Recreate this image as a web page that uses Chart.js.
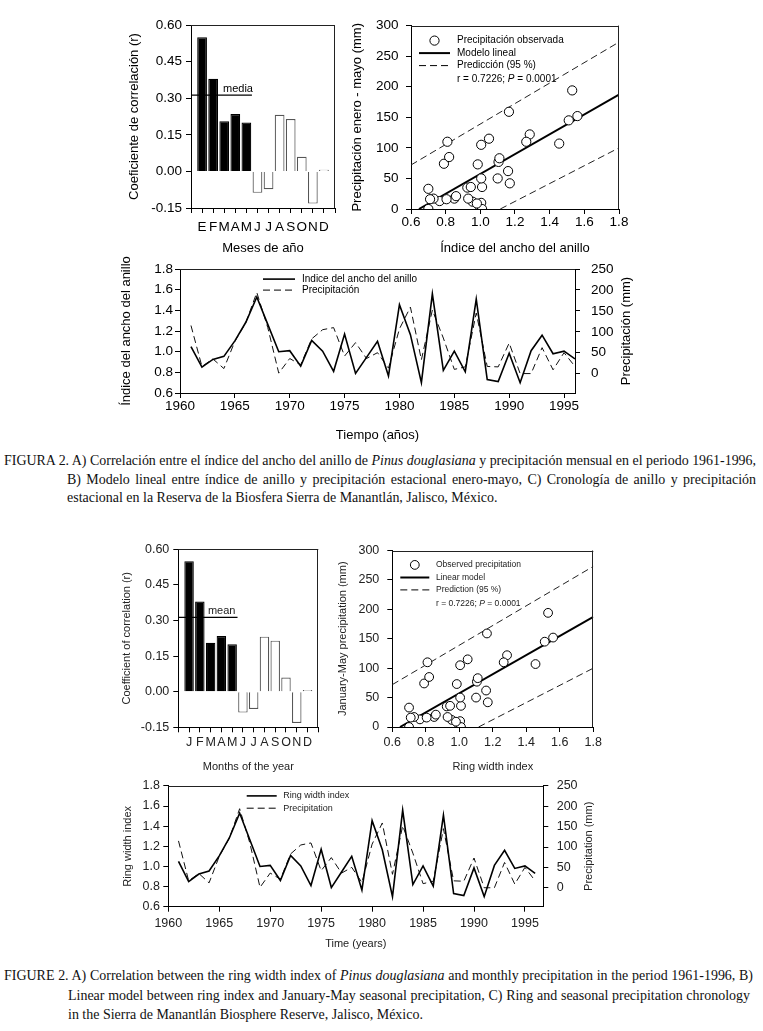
<!DOCTYPE html>
<html lang="es">
<head>
<meta charset="UTF-8" />
<title>Figura 2</title>
<script src="https://cdn.jsdelivr.net/npm/chart.js"></script>
<style>
  body { margin: 0; background: #fff; width: 763px; height: 1031px; position: relative; overflow: hidden; }
  .panel { position: absolute; }
  .panel canvas { display: block; }
  .ln {
    position: absolute; display: inline-block; white-space: nowrap;
    font-family: "Liberation Serif", "Times New Roman", serif; font-size: 14px;
    line-height: 14px; color: #111; transform-origin: 0 0;
  }
</style>
</head>
<body>
  <div class="panel" style="left:120px;top:10px"><canvas id="aEs" width="230" height="255"></canvas></div>
  <div class="panel" style="left:345px;top:10px"><canvas id="bEs" width="290" height="255"></canvas></div>
  <div class="panel" style="left:110px;top:250px"><canvas id="cEs" width="540" height="195"></canvas></div>

  <div class="ln cap-es" style="left:4px;top:454px" data-w="752">FIGURA 2. A) Correlación entre el índice del ancho del anillo de <i>Pinus douglasiana</i> y precipitación mensual en el periodo 1961-1996,</div>
  <div class="ln cap-es" style="left:67px;top:473px" data-w="689">B) Modelo lineal entre índice de anillo y precipitación estacional enero-mayo, C) Cronología de anillo y precipitación</div>
  <div class="ln cap-es" style="left:67px;top:491px" data-w="431" data-last="1">estacional en la Reserva de la Biosfera Sierra de Manantlán, Jalisco, México.</div>

  <div class="panel" style="left:115px;top:535px"><canvas id="aEn" width="215" height="245"></canvas></div>
  <div class="panel" style="left:335px;top:535px"><canvas id="bEn" width="275" height="245"></canvas></div>
  <div class="panel" style="left:110px;top:770px"><canvas id="cEn" width="505" height="190"></canvas></div>

  <div class="ln cap-en" style="left:4px;top:969px" data-w="749">FIGURE 2. A) Correlation between the ring width index of <i>Pinus douglasiana</i> and monthly precipitation in the period 1961-1996, B)</div>
  <div class="ln cap-en" style="left:68px;top:989px" data-w="682">Linear model between ring index and January-May seasonal precipitation, C) Ring and seasonal precipitation chronology</div>
  <div class="ln cap-en" style="left:68px;top:1008px" data-last="1">in the Sierra de Manantlán Biosphere Reserve, Jalisco, México.</div>

<script>
// data
const years = [1961, 1962, 1963, 1964, 1965, 1966, 1967, 1968, 1969, 1970, 1971, 1972,
  1973, 1974, 1975, 1976, 1977, 1978, 1979, 1980, 1981, 1982, 1983, 1984,
  1985, 1986, 1987, 1988, 1989, 1990, 1991, 1992, 1993, 1994, 1995, 1996];
const ringIndex = [1.05, 0.85, 0.925, 0.955, 1.105, 1.285, 1.53, 1.265, 1.00, 1.01, 0.86, 1.11,
  1.005, 0.81, 1.17, 0.79, 0.945, 1.10, 0.765, 1.455, 1.165, 0.70, 1.56, 0.82,
  1.005, 0.805, 1.51, 0.73, 0.71, 0.985, 0.70, 1.01, 1.16, 0.98, 1.005, 0.93];
const precipJanMay = [115, 17, 35, 12, 77, 122, 194, 110, 1, 36, 21, 83,
  105, 110, 42, 74, 36, 50, 13, 107, 159, 33, 152, 85,
  10, 16, 145, 17, 16, 73, 0, 0, 62, 9, 50, 17];

const monthsEs = ['E', 'F', 'M', 'A', 'M', 'J', 'J', 'A', 'S', 'O', 'N', 'D'];
const monthsEn = ['J', 'F', 'M', 'A', 'M', 'J', 'J', 'A', 'S', 'O', 'N', 'D'];
const corrMonthly = [0.55, 0.38, 0.206, 0.235, 0.20, -0.088, -0.073, 0.232, 0.215, 0.06, -0.132, 0.007];
const nSeason = 5; // E-M, filled bars
const meanCorr = 0.313;
const meanSpan = [0, 5.5];

const modelX = [0.646, 1.8], modelY = [0, 187];
const upperX = [0.6, 1.8], upperY = [72, 273];
const lowerX = [1.115, 1.8], lowerY = [0, 100];

const corrTicks = [-0.15, 0, 0.15, 0.30, 0.45, 0.60];
const monthSlots = [0, 1, 2, 3, 4, 5, 6, 7, 8, 9, 10, 11, 12, 13];
const ringTicks = [0.6, 0.8, 1.0, 1.2, 1.4, 1.6, 1.8];
const precipTicksB = [0, 50, 100, 150, 200, 250, 300];
const precipTicksC = [0, 50, 100, 150, 200, 250];
const yearTicks = [1960, 1965, 1970, 1975, 1980, 1985, 1990, 1995];

const FONT = "'Liberation Sans', Arial, sans-serif";
Chart.defaults.font.family = FONT;
Chart.defaults.color = '#000';
Chart.defaults.animation = false;
Chart.defaults.plugins.legend.display = false;
Chart.defaults.plugins.tooltip.enabled = false;

const pts = (xs, ys) => xs.map((x, i) => ({ x, y: ys[i] }));

// top / right edges of the plot box
const framePlugin = {
  id: 'frame',
  afterDatasetsDraw(chart, args, o) {
    if (!o.sides) return;
    const { ctx, chartArea: a } = chart;
    ctx.save();
    ctx.strokeStyle = o.color || '#222';
    ctx.lineWidth = 1;
    ctx.beginPath();
    if (o.sides.includes('top')) { ctx.moveTo(a.left, Math.round(a.top) + 0.5); ctx.lineTo(a.right, Math.round(a.top) + 0.5); }
    if (o.sides.includes('right')) { ctx.moveTo(Math.round(a.right) - 0.5, a.top); ctx.lineTo(Math.round(a.right) - 0.5, a.bottom); }
    ctx.stroke();
    ctx.restore();
  }
};

// legend drawn inside the plot box
const keyPlugin = {
  id: 'key',
  afterDraw(chart, args, o) {
    if (!o.rows) return;
    const { ctx, chartArea: a } = chart;
    ctx.save();
    ctx.textBaseline = 'middle';
    o.rows.forEach((r, i) => {
      const y = a.top + o.ys[i];
      const x0 = a.left + o.x0, x1 = a.left + o.x1;
      ctx.strokeStyle = '#000';
      if (r.mark === 'circle') {
        ctx.beginPath();
        ctx.arc((x0 + x1) / 2, y, o.r, 0, Math.PI * 2);
        ctx.fillStyle = '#fff'; ctx.fill();
        ctx.lineWidth = 1; ctx.stroke();
      } else if (r.mark) {
        ctx.beginPath();
        ctx.lineWidth = r.mark === 'solid' ? o.solidW : 1;
        ctx.setLineDash(r.mark === 'solid' ? [] : [7, 4]);
        ctx.moveTo(x0, y); ctx.lineTo(x1, y); ctx.stroke();
        ctx.setLineDash([]);
      }
      ctx.fillStyle = o.color;
      let x = a.left + o.tx;
      r.parts.forEach(([t, it]) => {
        ctx.font = (it ? 'italic ' : '') + o.size + 'px ' + FONT;
        ctx.fillText(t, x, y);
        x += ctx.measureText(t).width;
      });
    });
    ctx.restore();
  }
};

// small label above the mean line
const notePlugin = {
  id: 'note',
  afterDatasetsDraw(chart, args, o) {
    if (!o.text) return;
    const { ctx, scales } = chart;
    ctx.save();
    ctx.font = o.size + 'px ' + FONT;
    ctx.fillStyle = o.color;
    ctx.textAlign = 'center';
    ctx.textBaseline = 'bottom';
    ctx.fillText(o.text, scales.x.getPixelForValue(o.x), scales.y.getPixelForValue(o.y) - 1);
    ctx.restore();
  }
};

// right-hand axis title, read bottom to top like the left one
const sideTitlePlugin = {
  id: 'sideTitle',
  afterDraw(chart, args, o) {
    if (!o.text) return;
    const { ctx, chartArea: a } = chart;
    ctx.save();
    ctx.translate(chart.width - o.dx, (a.top + a.bottom) / 2);
    ctx.rotate(-Math.PI / 2);
    ctx.font = o.size + 'px ' + FONT;
    ctx.fillStyle = o.color;
    ctx.textAlign = 'center';
    ctx.textBaseline = 'middle';
    ctx.fillText(o.text, 0, 0);
    ctx.restore();
  }
};
Chart.register(framePlugin, keyPlugin, notePlugin, sideTitlePlugin);

function axis(o) {
  return {
    type: 'linear', position: o.pos, min: o.min, max: o.max, offset: false,
    afterBuildTicks: ax => { ax.ticks = o.ticks.map(v => ({ value: v })); },
    afterFit: ax => { if (o.pos === 'bottom') ax.height = o.fit; else ax.width = o.fit; },
    ticks: { callback: o.fmt, autoSkip: false, maxRotation: 0, padding: o.tickPad, font: { size: o.size }, color: o.color },
    grid: { offset: false, drawOnChartArea: false, tickLength: 5, color: '#000', lineWidth: 1 },
    border: { display: true, color: '#000', width: 1 },
    title: { display: !!o.title, text: o.title || '', font: { size: o.titleSize }, color: o.color, padding: o.titlePad }
  };
}

function barPanel(id, L) {
  new Chart(document.getElementById(id), {
    type: 'bar',
    data: {
      datasets: [
        { type: 'line', data: meanSpan.map(x => ({ x, y: meanCorr })), borderColor: '#000', borderWidth: 1.3, pointRadius: 0 },
        {
          data: corrMonthly.map((y, i) => ({ x: i + 1, y })),
          backgroundColor: corrMonthly.map((v, i) => i < nSeason ? '#000' : '#fff'),
          borderColor: corrMonthly.map((v, i) => i < nSeason ? '#000' : '#555'),
          borderWidth: 1.2, barPercentage: 0.88, categoryPercentage: 1
        }
      ]
    },
    options: {
      responsive: false,
      layout: { padding: L.pad },
      scales: {
        x: axis({ pos: 'bottom', min: 0, max: 13, ticks: monthSlots, fmt: v => L.months[v - 1] || '',
          size: L.tick, color: L.color, tickPad: L.xTickPad, fit: L.xFit,
          title: L.xTitle, titleSize: L.titleSize, titlePad: { top: 0, bottom: L.xTitlePad } }),
        y: axis({ pos: 'left', min: -0.15, max: 0.60, ticks: corrTicks, fmt: v => v.toFixed(2),
          size: L.tick, color: L.color, tickPad: L.yTickPad, fit: L.yFit,
          title: L.yTitle, titleSize: L.titleSize, titlePad: { top: L.yTitlePad, bottom: 0 } })
      },
      plugins: {
        frame: { sides: ['top', 'right'] },
        note: { text: L.meanWord, x: L.meanX, y: meanCorr, size: 11, color: L.color }
      }
    }
  });
}

function scatterPanel(id, L) {
  new Chart(document.getElementById(id), {
    type: 'scatter',
    data: {
      datasets: [
        { data: pts(ringIndex, precipJanMay), pointRadius: L.r, pointBackgroundColor: '#fff',
          pointBorderColor: '#000', pointBorderWidth: 1 },
        { data: pts(modelX, modelY), showLine: true, borderColor: '#000', borderWidth: 2, pointRadius: 0 },
        { data: pts(upperX, upperY), showLine: true, borderColor: '#222', borderWidth: 1, borderDash: [7, 4], pointRadius: 0 },
        { data: pts(lowerX, lowerY), showLine: true, borderColor: '#222', borderWidth: 1, borderDash: [7, 4], pointRadius: 0 }
      ]
    },
    options: {
      responsive: false,
      layout: { padding: L.pad },
      scales: {
        x: axis({ pos: 'bottom', min: 0.6, max: 1.8, ticks: ringTicks, fmt: v => v.toFixed(1),
          size: L.tick, color: L.color, tickPad: L.xTickPad, fit: L.xFit,
          title: L.xTitle, titleSize: L.titleSize, titlePad: { top: 0, bottom: L.xTitlePad } }),
        y: axis({ pos: 'left', min: 0, max: 300, ticks: precipTicksB, fmt: v => String(v),
          size: L.tick, color: L.color, tickPad: L.yTickPad, fit: L.yFit,
          title: L.yTitle, titleSize: L.titleSize, titlePad: { top: L.yTitlePad, bottom: 0 } })
      },
      plugins: {
        frame: { sides: ['top', 'right'] },
        key: {
          rows: [
            { mark: 'circle', parts: [[L.keys[0]]] },
            { mark: 'solid', parts: [[L.keys[1]]] },
            { mark: 'dashed', parts: [[L.keys[2]]] },
            { parts: [['r = 0.7226; '], ['P', true], [' = 0.0001']] }
          ],
          ys: L.keyYs, x0: L.keyX0, x1: L.keyX1, tx: L.keyTx, r: L.r, solidW: 2,
          size: L.keySize, color: L.color
        }
      }
    }
  });
}

function seriesPanel(id, L) {
  new Chart(document.getElementById(id), {
    type: 'line',
    data: {
      datasets: [
        { data: pts(years, ringIndex), yAxisID: 'y', borderColor: '#000', borderWidth: 1.6, pointRadius: 0, tension: 0 },
        { data: pts(years, precipJanMay), yAxisID: 'y1', borderColor: '#111', borderWidth: 1, borderDash: [7, 4], pointRadius: 0, tension: 0 }
      ]
    },
    options: {
      responsive: false,
      layout: { padding: L.pad },
      scales: {
        x: axis({ pos: 'bottom', min: 1960, max: L.xMax, ticks: yearTicks, fmt: v => String(v),
          size: L.tick, color: L.color, tickPad: L.xTickPad, fit: L.xFit,
          title: L.xTitle, titleSize: L.titleSize, titlePad: { top: 0, bottom: L.xTitlePad } }),
        y: axis({ pos: 'left', min: 0.6, max: 1.8, ticks: ringTicks, fmt: v => v.toFixed(1),
          size: L.tick, color: L.color, tickPad: L.yTickPad, fit: L.yFit,
          title: L.yTitle, titleSize: L.titleSize, titlePad: { top: L.yTitlePad, bottom: 0 } }),
        y1: axis({ pos: 'right', min: -46.5, max: 250, ticks: precipTicksC, fmt: v => String(v),
          size: L.tick, color: L.color, tickPad: L.y1TickPad, fit: L.y1Fit })
      },
      plugins: {
        frame: { sides: ['top'] },
        sideTitle: { text: L.y1Title, dx: L.y1TitleDx, size: L.titleSize, color: L.color },
        key: {
          rows: [{ mark: 'solid', parts: [[L.keys[0]]] }, { mark: 'dashed', parts: [[L.keys[1]]] }],
          ys: L.keyYs, x0: L.keyX0, x1: L.keyX1, tx: L.keyTx, r: 0, solidW: 1.6,
          size: L.keySize, color: L.color
        }
      }
    }
  });
}

// Spanish block
barPanel('aEs', {
  months: monthsEs, meanWord: 'media', meanX: 4.24, color: '#000', tick: 13.5, titleSize: 13,
  pad: { top: 15, right: 15, left: 0, bottom: 0 }, yFit: 71, xFit: 57,
  yTickPad: 4, xTickPad: 6.5, yTitlePad: 7, xTitlePad: 9,
  yTitle: 'Coeficiente de correlación (r)', xTitle: 'Meses de año'
});
scatterPanel('bEs', {
  color: '#000', tick: 13.5, titleSize: 13, r: 4.6,
  pad: { top: 15, right: 16, left: 0, bottom: 0 }, yFit: 66, xFit: 56,
  yTickPad: 7.5, xTickPad: 0, yTitlePad: 5, xTitlePad: 9,
  yTitle: 'Precipitación enero - mayo (mm)', xTitle: 'Índice del ancho del anillo',
  keys: ['Precipitación observada', 'Modelo lineal', 'Predicción (95 %)'],
  keyYs: [15, 27.5, 40, 54], keyX0: 8, keyX1: 39, keyTx: 46, keySize: 10
});
seriesPanel('cEs', {
  color: '#000', tick: 13.5, titleSize: 13, xMax: 1996,
  pad: { top: 19, right: 0, left: 0, bottom: 0 }, yFit: 70, y1Fit: 75, xFit: 52,
  yTickPad: 2, y1TickPad: 11, xTickPad: 0.5, yTitlePad: 9, y1TitleDx: 23.3, xTitlePad: 2,
  yTitle: 'Índice del ancho del anillo', y1Title: 'Precipitación (mm)', xTitle: 'Tiempo (años)',
  keys: ['Indice del ancho del anillo', 'Precipitación'],
  keyYs: [10, 21], keyX0: 83, keyX1: 115, keyTx: 122, keySize: 10
});

// English block
barPanel('aEn', {
  months: monthsEn, meanWord: 'mean', meanX: 4.03, color: '#222', tick: 12.5, titleSize: 11,
  pad: { top: 14.3, right: 11.7, left: 0, bottom: 0 }, yFit: 63.3, xFit: 52.7,
  yTickPad: 4, xTickPad: 2.5, yTitlePad: 5, xTitlePad: 6.7,
  yTitle: 'Coefficient of correlation (r)', xTitle: 'Months of the year'
});
scatterPanel('bEn', {
  color: '#222', tick: 12.5, titleSize: 11, r: 4.4,
  pad: { top: 14.3, right: 16.7, left: 0, bottom: 0 }, yFit: 57.3, xFit: 53,
  yTickPad: 8, xTickPad: 2.8, yTitlePad: 1.7, xTitlePad: 6,
  yTitle: 'January-May precipitation (mm)', xTitle: 'Ring width index',
  keys: ['Observed precipitation', 'Linear model', 'Prediction (95 %)'],
  keyYs: [14.4, 27, 39.4, 53.4], keyX0: 8, keyX1: 37, keyTx: 43.7, keySize: 8.5
});
seriesPanel('cEn', {
  color: '#222', tick: 12.5, titleSize: 11, xMax: 1996.8,
  pad: { top: 15.7, right: 0, left: 0, bottom: 0 }, yFit: 58.3, y1Fit: 71.7, xFit: 53.3,
  yTickPad: 3.3, y1TickPad: 8.4, xTickPad: 4.8, yTitlePad: 11.7, y1TitleDx: 26, xTitlePad: 9,
  yTitle: 'Ring width index', y1Title: 'Precipitation (mm)', xTitle: 'Time (years)',
  keys: ['Ring width index', 'Precipitation'],
  keyYs: [10, 22.3], keyX0: 78.4, keyX1: 108.4, keyTx: 115, keySize: 9
});

// captions: the same condensed serif for both captions; the factor comes from the
// ragged last Spanish line, full lines are justified to the printed width
function setCaption(cls, s) {
  document.querySelectorAll('.' + cls).forEach(el => {
    const w = +el.dataset.w, n = el.offsetWidth;
    if (el.dataset.last) {
      el.style.transform = 'scaleX(' + s + ')';
    } else if (n * s <= w) {
      el.style.whiteSpace = 'normal';
      el.style.width = (w / s) + 'px';
      el.style.textAlign = 'justify';
      el.style.textAlignLast = 'justify';
      el.style.transform = 'scaleX(' + s + ')';
    } else {
      el.style.transform = 'scaleX(' + (w / n) + ')';
    }
  });
}
const lastEs = document.querySelector('.cap-es[data-last]');
const squeeze = +lastEs.dataset.w / lastEs.offsetWidth;
setCaption('cap-es', squeeze);
setCaption('cap-en', squeeze);
</script>
</body>
</html>
